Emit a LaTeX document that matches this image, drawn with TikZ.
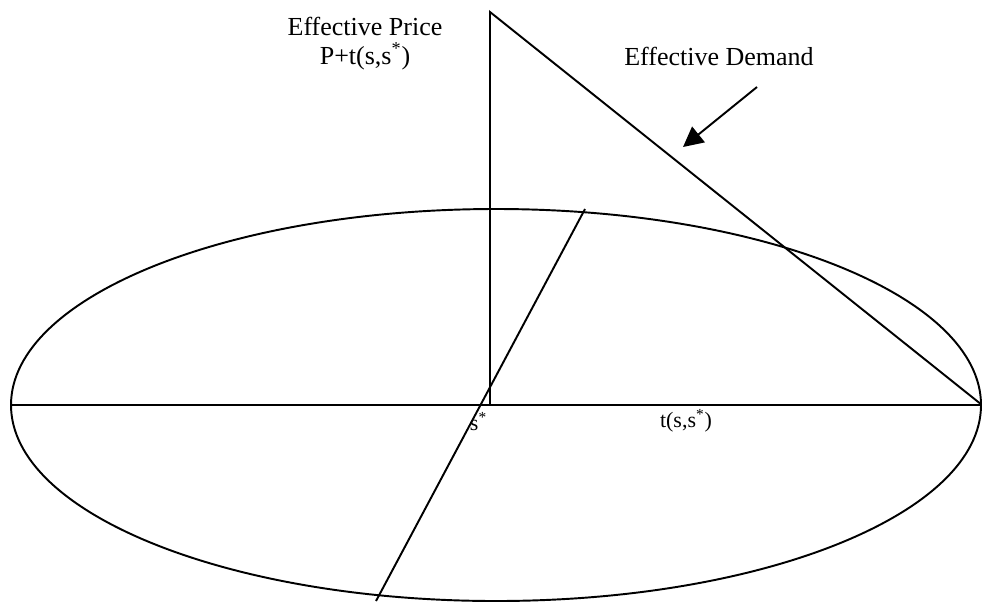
\documentclass[tikz,border=0pt]{standalone}
\usepackage{fontspec}
\setmainfont{Liberation Serif}
\usepackage{tikz}
\usetikzlibrary{arrows.meta,positioning}
\definecolor{ink}{HTML}{000000}

\begin{document}
\begin{tikzpicture}[x=0.02cm,y=-0.02cm,line width=1.1pt,color=ink,
    big/.style={font=\fontsize{14.8}{17}\selectfont,inner sep=0pt},
    small/.style={font=\fontsize{12.5}{15}\selectfont,inner sep=0pt}]
  \useasboundingbox (0,0) rectangle (982,602);
  \coordinate (left) at (11,405);
  \coordinate (origin) at (490,405);
  \coordinate (right) at (982,405);
  \coordinate (top) at (490,12);
  \coordinate (slantlow) at (376,601);
  \coordinate (slanthigh) at (585,209);
  \coordinate (tail) at (757,87);
  \coordinate (tip) at (683,147);
  \draw (496,405) ellipse [x radius=485,y radius=196];
  \draw (left) -- (right);
  \draw (origin) -- (top) -- (right);
  \draw (slantlow) -- (slanthigh);
  \draw[-{Triangle[length=0.4cm,width=0.4cm]}] (tail) -- (tip);
  \node[big,anchor=base] (price) at (365,35) {Effective Price};
  \node[big,anchor=base] (pricet) at (365,64) {P+t(s,s\textsuperscript{*})};
  \node[big,anchor=base] (demand) at (719,65) {Effective Demand};
  \node[small,anchor=base west] (sstar) at (469,430) {s\textsuperscript{*}};
  \node[small,anchor=base] (dist) at (686,427) {t(s,s\textsuperscript{*})};
\end{tikzpicture}
\end{document}
